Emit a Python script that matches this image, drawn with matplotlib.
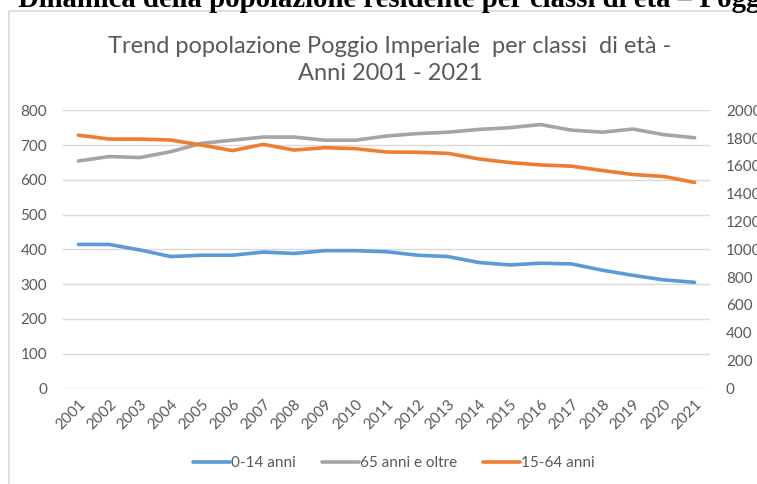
import matplotlib
matplotlib.use("Agg")
import matplotlib.pyplot as plt
from matplotlib.patches import Rectangle

# --------- data ----------------------------- #
anni = [str(a) for a in range(2001, 2022)]
eta_0_14 = [414, 414, 398, 379, 383, 383, 392, 388, 396, 396, 393,
            383, 379, 362, 355, 360, 358, 340, 325, 312, 305]
eta_65_oltre = [654, 667, 664, 681, 705, 714, 723, 723, 714, 714, 726,
                733, 737, 745, 750, 759, 743, 737, 746, 730, 721]
eta_15_64 = [1821, 1793, 1793, 1786, 1750, 1710, 1755, 1714, 1731, 1724, 1700,
             1698, 1690, 1650, 1624, 1607, 1598, 1567, 1538, 1524, 1481]

left_ticks = list(range(0, 801, 100))
right_ticks = list(range(0, 2001, 200))

c_blu = '#5B9BD5'
c_grigio = '#A5A5A5'
c_arancio = '#ED7D31'
c_testo = '#595959'
c_griglia = '#D9D9D9'
font = ['Lato', 'DejaVu Sans']

W, H = 757, 484
fig = plt.figure(figsize=(W / 100, H / 100), dpi=100)

# cropped page heading and chart frame
fig.text(18 / W, 1 - 7 / H, 'Dinamica della popolazione residente per classi di età – Poggio Imperiale',
         family='Liberation Serif', weight='bold', fontsize=20.7, va='baseline', ha='left')
fig.patches.append(Rectangle((9 / W, -0.2), 1.2, 1.2 - 11 / H, transform=fig.transFigure,
                             fill=False, edgecolor=c_griglia, lw=1.2))

ax = fig.add_axes([63 / W, 1 - 388.3 / H, 647 / W, 278 / H])
ax2 = ax.twinx()

x = list(range(len(anni)))
ax.plot(x, eta_0_14, color=c_blu, lw=2.6, label='0-14 anni', solid_capstyle='round')
ax.plot(x, eta_65_oltre, color=c_grigio, lw=2.6, label='65 anni e oltre', solid_capstyle='round')
ax2.plot(x, eta_15_64, color=c_arancio, lw=2.6, label='15-64 anni', solid_capstyle='round')

ax.set_xlim(-0.5, len(anni) - 0.5)
ax.set_ylim(0, 800)
ax2.set_ylim(0, 2000)
ax.set_yticks(left_ticks)
ax2.set_yticks(right_ticks)
ax.set_xticks(x)
ax.set_xticklabels(anni, rotation=45, ha='right', va='top', rotation_mode='anchor')

ax.grid(axis='y', color=c_griglia, lw=1)
ax.set_axisbelow(True)
for a in (ax, ax2):
    for s in a.spines.values():
        s.set_visible(False)
    a.tick_params(length=0, colors=c_testo, labelsize=11)
    for lab in a.get_xticklabels() + a.get_yticklabels():
        lab.set_family(font)
ax.tick_params(axis='y', pad=11.5)
ax2.tick_params(axis='y', pad=11.5)
ax.tick_params(axis='x', pad=6)

fig.text(390 / W, 1 - 60 / H, 'Trend popolazione Poggio Imperiale  per classi  di età -\nAnni 2001 - 2021',
         family=font, fontsize=17, color=c_testo, ha='center', va='center',
         multialignment='center', linespacing=1.35)

h1, l1 = ax.get_legend_handles_labels()
h2, l2 = ax2.get_legend_handles_labels()
leg = fig.legend(h1 + h2, l1 + l2, loc='center', bbox_to_anchor=(394 / W, 1 - 463 / H),
                 ncol=3, frameon=False, handlelength=2.4, handletextpad=0.1,
                 columnspacing=1.7, prop={'family': font, 'size': 11})
for t in leg.get_texts():
    t.set_color(c_testo)

fig.savefig('out.png', dpi=100, facecolor='white')
